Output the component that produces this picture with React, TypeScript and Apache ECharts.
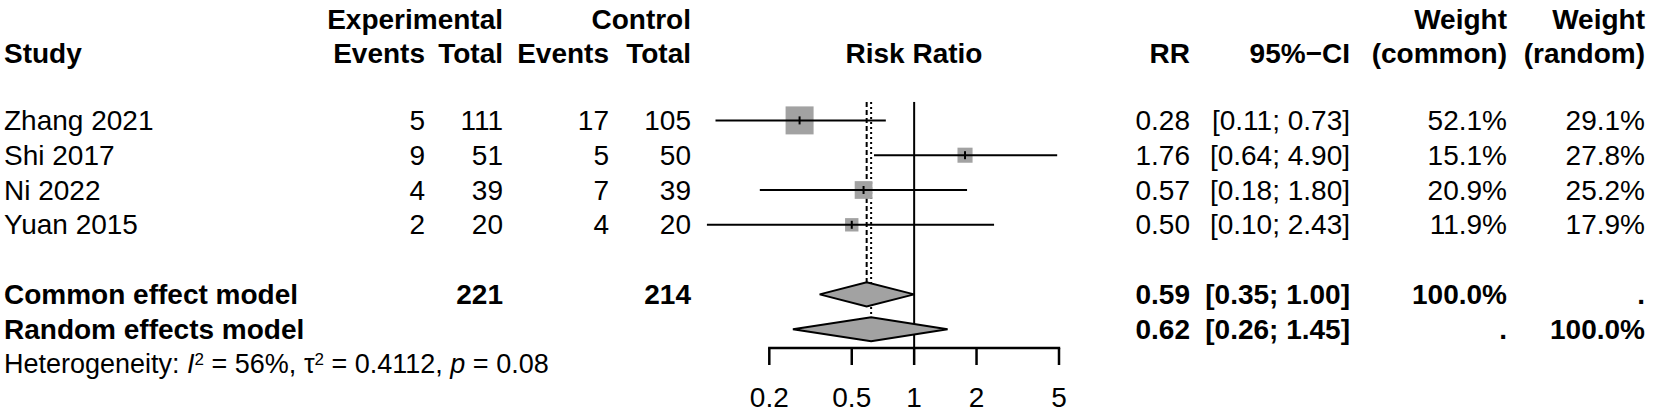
import React, { useEffect, useRef } from "react";
import * as echarts from "echarts";

// ---------- data ----------
const studies = ["Zhang 2021", "Shi 2017", "Ni 2022", "Yuan 2015"];
const expEvents = [5, 9, 4, 2];
const expTotal = [111, 51, 39, 20];
const ctrlEvents = [17, 5, 7, 4];
const ctrlTotal = [105, 50, 39, 20];
const riskRatio = [0.28, 1.76, 0.57, 0.5];
const ciLower = [0.11, 0.64, 0.18, 0.1];
const ciUpper = [0.73, 4.9, 1.8, 2.43];
const weightCommon = [52.1, 15.1, 20.9, 11.9];
const weightRandom = [29.1, 27.8, 25.2, 17.9];

const pooledModels = ["Common effect model", "Random effects model"];
const pooledRR = [0.59, 0.62];
const pooledLower = [0.35, 0.26];
const pooledUpper = [1.0, 1.45];
const pooledExpTotal = [221, null];
const pooledCtrlTotal = [214, null];
const pooledWeightCommon = [100.0, null];
const pooledWeightRandom = [null, 100.0];

const hetI2 = 56;
const hetTau2 = 0.4112;
const hetP = 0.08;

const axisTicks = [0.2, 0.5, 1, 2, 5];
const axisTickLabels = ["0.2", "0.5", "1", "2", "5"];

// ---------- layout ----------
const FONT = '"Liberation Sans", Arial, Helvetica, sans-serif';
const FS = 28;
const FS_HET = 27;
const ROW_H = 34.8;
const TOP = 16;
const N_ROWS = 11;
const HEAD1 = 0.11;
const HEAD2 = 1.08;
const FIRST_STUDY_ROW = 3;
const FIRST_POOLED_ROW = 8;
const HET_ROW = 10;
const AXIS_ROW = 9.54;
const TICK_LABEL_ROW = 10.95;
const REF_TOP_ROW = 2.47;
const TICK_LEN = 17;
const DIAMOND_HALF = 12;
const SQUARE_SCALE = 3.88;
const GREY = "#a2a2a2";
const COL = {
  study: 4,
  expEv: 425,
  expTot: 503,
  ctrlEv: 609,
  ctrlTot: 691,
  plotMid: 914,
  rr: 1190,
  ci: 1350,
  wc: 1507,
  wr: 1645,
};

type Cell = { row: number; x: number; text: string; align: string; bold?: boolean; rich?: any; size?: number };

const fmtCI = (l: number, u: number) => `[${l.toFixed(2)}; ${u.toFixed(2)}]`;
const fmtPct = (w: number | null) => (w == null ? "." : `${w.toFixed(1)}%`);

function buildCells(): Cell[] {
  const cells: Cell[] = [];
  const h = (row: number, x: number, text: string, align = "right") =>
    cells.push({ row, x, text, align, bold: true });
  h(HEAD1, COL.expTot, "Experimental");
  h(HEAD1, COL.ctrlTot, "Control");
  h(HEAD1, COL.wc, "Weight");
  h(HEAD1, COL.wr, "Weight");
  h(HEAD2, COL.study, "Study", "left");
  h(HEAD2, COL.expEv, "Events");
  h(HEAD2, COL.expTot, "Total");
  h(HEAD2, COL.ctrlEv, "Events");
  h(HEAD2, COL.ctrlTot, "Total");
  h(HEAD2, COL.plotMid, "Risk Ratio", "center");
  h(HEAD2, COL.rr, "RR");
  h(HEAD2, COL.ci, "95%\u2212CI");
  h(HEAD2, COL.wc, "(common)");
  h(HEAD2, COL.wr, "(random)");

  studies.forEach((s, i) => {
    const row = FIRST_STUDY_ROW + i;
    cells.push({ row, x: COL.study, text: s, align: "left" });
    cells.push({ row, x: COL.expEv, text: String(expEvents[i]), align: "right" });
    cells.push({ row, x: COL.expTot, text: String(expTotal[i]), align: "right" });
    cells.push({ row, x: COL.ctrlEv, text: String(ctrlEvents[i]), align: "right" });
    cells.push({ row, x: COL.ctrlTot, text: String(ctrlTotal[i]), align: "right" });
    cells.push({ row, x: COL.rr, text: riskRatio[i].toFixed(2), align: "right" });
    cells.push({ row, x: COL.ci, text: fmtCI(ciLower[i], ciUpper[i]), align: "right" });
    cells.push({ row, x: COL.wc, text: fmtPct(weightCommon[i]), align: "right" });
    cells.push({ row, x: COL.wr, text: fmtPct(weightRandom[i]), align: "right" });
  });

  pooledModels.forEach((m, k) => {
    const row = FIRST_POOLED_ROW + k;
    h(row, COL.study, m, "left");
    if (pooledExpTotal[k] != null) h(row, COL.expTot, String(pooledExpTotal[k]));
    if (pooledCtrlTotal[k] != null) h(row, COL.ctrlTot, String(pooledCtrlTotal[k]));
    h(row, COL.rr, pooledRR[k].toFixed(2));
    h(row, COL.ci, fmtCI(pooledLower[k], pooledUpper[k]));
    h(row, COL.wc, fmtPct(pooledWeightCommon[k]));
    h(row, COL.wr, fmtPct(pooledWeightRandom[k]));
  });

  cells.push({
    row: HET_ROW,
    x: COL.study,
    align: "left",
    size: FS_HET,
    text: `Heterogeneity: {it|I}{sup|2} = ${hetI2}%, \u03c4{sup|2} = ${hetTau2}, {it|p} = ${hetP}`,
    rich: {
      it: { fontStyle: "italic", fontSize: FS_HET, fontFamily: FONT, fill: "#000" },
      sup: { fontSize: 17, fontFamily: FONT, fill: "#000", verticalAlign: "top" },
    },
  });
  return cells;
}

export default function App() {
  const ref = useRef<HTMLDivElement>(null);

  useEffect(() => {
    if (!ref.current) return;
    const chart = echarts.init(ref.current, undefined, { renderer: "svg" });
    const cells = buildCells();

    const textStyle = (c: Cell) => {
      const st: any = {
        text: c.text,
        fill: "#000",
        fontSize: c.size || FS,
        fontFamily: FONT,
        fontWeight: c.bold ? "bold" : "normal",
        align: c.align,
        textAlign: c.align,
        verticalAlign: "middle",
        textVerticalAlign: "middle",
      };
      if (c.rich) st.rich = c.rich;
      return st;
    };

    const option: any = {
      animation: false,
      backgroundColor: "#ffffff",
      grid: {
        left: 769.3,
        width: 289.7,
        top: TOP,
        height: ROW_H * N_ROWS,
        containLabel: false,
      },
      xAxis: { type: "log", logBase: 10, min: axisTicks[0], max: axisTicks[axisTicks.length - 1], show: false },
      yAxis: { type: "value", min: 0, max: N_ROWS, inverse: true, show: false },
      series: [
        // reference lines (line of no effect + pooled estimates)
        {
          type: "custom",
          z: 1,
          silent: true,
          data: [
            [1, REF_TOP_ROW, AXIS_ROW, 0],
            [pooledRR[0], REF_TOP_ROW, FIRST_POOLED_ROW, 1],
            [pooledRR[1], REF_TOP_ROW, FIRST_POOLED_ROW + 1, 2],
          ],
          renderItem: (params: any, api: any) => {
            const kind = api.value(3);
            const top = api.coord([api.value(0), api.value(1)]);
            const bot = api.coord([api.value(0), api.value(2)]);
            const y2 = kind === 0 ? bot[1] : bot[1] - DIAMOND_HALF;
            const dash = kind === 0 ? null : kind === 1 ? [5, 3] : [2, 3];
            return {
              type: "line",
              shape: { x1: top[0], y1: top[1], x2: top[0], y2 },
              style: { stroke: "#000", lineWidth: 2, lineDash: dash },
            };
          },
        },
        // study squares and CIs
        {
          type: "custom",
          z: 3,
          silent: true,
          data: studies.map((_, i) => [riskRatio[i], FIRST_STUDY_ROW + i, ciLower[i], ciUpper[i], weightCommon[i]]),
          renderItem: (params: any, api: any) => {
            const row = api.value(1);
            const c = api.coord([api.value(0), row]);
            const l = api.coord([api.value(2), row]);
            const u = api.coord([api.value(3), row]);
            const side = SQUARE_SCALE * Math.sqrt(api.value(4));
            return {
              type: "group",
              children: [
                {
                  type: "rect",
                  shape: { x: c[0] - side / 2, y: c[1] - side / 2, width: side, height: side },
                  style: { fill: GREY },
                },
                {
                  type: "line",
                  shape: { x1: l[0], y1: c[1], x2: u[0], y2: c[1] },
                  style: { stroke: "#000", lineWidth: 2 },
                },
                {
                  type: "line",
                  shape: { x1: c[0], y1: c[1] - 4, x2: c[0], y2: c[1] + 4 },
                  style: { stroke: "#000", lineWidth: 2 },
                },
              ],
            };
          },
        },
        // pooled diamonds
        {
          type: "custom",
          z: 4,
          silent: true,
          data: pooledRR.map((r, k) => [r, FIRST_POOLED_ROW + k, pooledLower[k], pooledUpper[k]]),
          renderItem: (params: any, api: any) => {
            const row = api.value(1);
            const c = api.coord([api.value(0), row]);
            const l = api.coord([api.value(2), row]);
            const u = api.coord([api.value(3), row]);
            return {
              type: "polygon",
              shape: {
                points: [
                  [l[0], c[1]],
                  [c[0], c[1] - DIAMOND_HALF],
                  [u[0], c[1]],
                  [c[0], c[1] + DIAMOND_HALF],
                ],
              },
              style: { fill: GREY, stroke: "#000", lineWidth: 2 },
            };
          },
        },
        // x axis line
        {
          type: "custom",
          z: 2,
          silent: true,
          data: [[axisTicks[0], AXIS_ROW, axisTicks[axisTicks.length - 1]]],
          renderItem: (params: any, api: any) => {
            const a = api.coord([api.value(0), api.value(1)]);
            const b = api.coord([api.value(2), api.value(1)]);
            return {
              type: "line",
              shape: { x1: a[0] - 1.2, y1: a[1], x2: b[0] + 1.2, y2: b[1] },
              style: { stroke: "#000", lineWidth: 2.5 },
            };
          },
        },
        // ticks + labels
        {
          type: "custom",
          z: 2,
          silent: true,
          data: axisTicks.map((t) => [t, AXIS_ROW, TICK_LABEL_ROW]),
          renderItem: (params: any, api: any) => {
            const a = api.coord([api.value(0), api.value(1)]);
            const lb = api.coord([api.value(0), api.value(2)]);
            return {
              type: "group",
              children: [
                {
                  type: "line",
                  shape: { x1: a[0], y1: a[1], x2: a[0], y2: a[1] + TICK_LEN },
                  style: { stroke: "#000", lineWidth: 2.5 },
                },
                {
                  type: "text",
                  x: a[0],
                  y: lb[1],
                  style: {
                    text: axisTickLabels[params.dataIndex],
                    fill: "#000",
                    fontSize: FS,
                    fontFamily: FONT,
                    align: "center",
                    textAlign: "center",
                    verticalAlign: "middle",
                    textVerticalAlign: "middle",
                  },
                },
              ],
            };
          },
        },
        // table texts
        {
          type: "custom",
          z: 5,
          silent: true,
          data: cells.map((c) => [1, c.row]),
          renderItem: (params: any, api: any) => {
            const c = cells[params.dataIndex];
            const p = api.coord([api.value(0), api.value(1)]);
            return { type: "text", x: c.x, y: p[1], style: textStyle(c) };
          },
        },
      ],
    };

    chart.setOption(option);
    return () => chart.dispose();
  }, []);

  return (
    <div
      ref={ref}
      style={{ position: "fixed", left: 0, top: 0, width: 1654, height: 416, background: "#fff" }}
    />
  );
}
